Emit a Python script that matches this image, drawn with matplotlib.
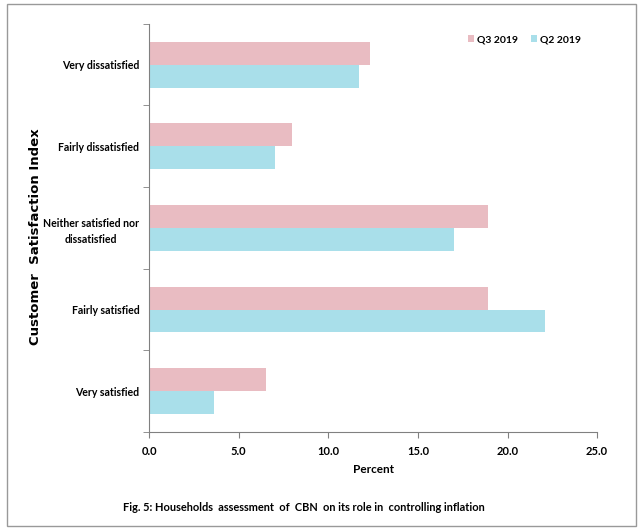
import numpy as np
import matplotlib
matplotlib.use("Agg")
import matplotlib.pyplot as plt
from matplotlib.patches import Rectangle

plt.rcParams['font.family'] = ['Lato', 'DejaVu Sans']

categories = ['Very satisfied', 'Fairly satisfied', 'Neither satisfied nor\ndissatisfied',
              'Fairly dissatisfied', 'Very dissatisfied']
q3_2019 = [6.5, 18.9, 18.9, 8.0, 12.3]
q2_2019 = [3.6, 22.1, 17.0, 7.0, 11.7]
xticks = [0, 5, 10, 15, 20, 25]

pink = '#e9bcc2'
blue = '#a9dfea'

fig = plt.figure(figsize=(6.4, 5.3), dpi=100)
ax = fig.add_axes([0.233, 0.185, 0.70, 0.77])

y = np.arange(len(categories))
h = 0.28
ax.barh(y + h / 2, q3_2019, height=h, color=pink, label='Q3 2019')
ax.barh(y - h / 2, q2_2019, height=h, color=blue, label='Q2 2019')

ax.set_xlim(0, 25)
ax.set_ylim(-0.5, len(categories) - 0.5)
ax.set_xticks(xticks)
ax.set_xticklabels(['%.1f' % v for v in xticks], fontsize=8, fontweight='bold')
ax.set_yticks(y)
ax.set_yticklabels(categories, fontsize=7.6, fontweight='bold', multialignment='center',
                   linespacing=1.6)
ax.set_yticks(np.arange(-0.5, len(categories)), minor=True)
ax.tick_params(axis='y', which='major', length=0, pad=7)
ax.tick_params(axis='y', which='minor', length=4, color='#808080')
ax.tick_params(axis='x', length=4, color='#808080', pad=6)

for s in ['top', 'right']:
    ax.spines[s].set_visible(False)
for s in ['left', 'bottom']:
    ax.spines[s].set_color('#808080')

ax.set_xlabel('Percent', fontsize=8.5, fontweight='bold', labelpad=5)
fig.text(0.055, 0.553, 'Customer  Satisfaction Index', rotation=90, fontsize=9.5,
         fontweight='bold', ha='center', va='center', family='DejaVu Sans')

ax.legend(loc='upper right', bbox_to_anchor=(0.985, 0.995), ncol=2, frameon=False,
          handlelength=0.6, handleheight=0.6, handletextpad=0.3,
          columnspacing=1.2, prop={'weight': 'bold', 'size': 7.5})

fig.text(0.475, 0.043, 'Fig. 5: Households  assessment  of  CBN  on its role in  controlling inflation',
         fontsize=7.9, fontweight='bold', ha='center', va='center')

fig.patches.append(Rectangle((0.011, 0.008), 0.982, 0.985, transform=fig.transFigure,
                             fill=False, edgecolor='#999999', linewidth=1))

fig.savefig('out.png', dpi=100)
